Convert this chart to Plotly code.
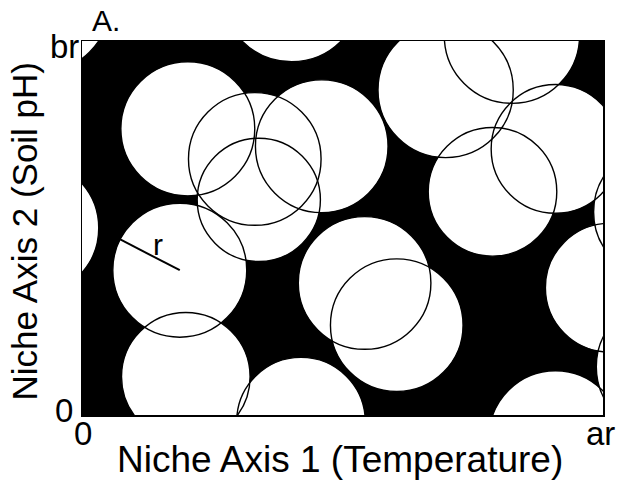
import math
import plotly.graph_objects as go

# Niche axis extents (in units of the niche radius r)
ar = 7.78
br = 5.58

# Niche centres and radii (units of r)
niche_x = [-0.60, 3.13, 1.58, 2.58, 3.58, 2.64, 5.43, 6.42, 7.07, 6.13,
           8.63, 7.88, 8.67, 7.07, -0.76, 1.46, 1.55, 3.27, 4.22, 4.70]
niche_y = [6.13, 6.31, 4.27, 3.82, 4.01, 3.21, 4.85, 5.66, 3.97, 3.33,
           3.03, 1.90, 0.72, -0.33, 2.79, 2.16, 0.57, -0.10, 1.97, 1.34]
niche_r = [1.01, 1.04, 1.00, 0.99, 0.99, 0.92, 1.01, 1.01, 0.96, 0.96,
           0.99, 0.96, 0.99, 0.99, 1.01, 1.00, 0.96, 0.96, 0.99, 0.99]

# the niche whose radius is marked, and direction of the marker (degrees)
radius_niche = 15
radius_angle = 152.7

x_tick_vals = [0, ar]
x_tick_text = ["0", "ar"]
y_tick_vals = [0, br]
y_tick_text = ["0", "br"]

FONT = "Liberation Sans, Arial, Helvetica, sans-serif"

shapes = []
for cx, cy, r in zip(niche_x, niche_y, niche_r):
    shapes.append(dict(type="circle", xref="x", yref="y",
                       x0=cx - r, x1=cx + r, y0=cy - r, y1=cy + r,
                       fillcolor="white", line=dict(width=0), layer="below"))
for cx, cy, r in zip(niche_x, niche_y, niche_r):
    shapes.append(dict(type="circle", xref="x", yref="y",
                       x0=cx - r, x1=cx + r, y0=cy - r, y1=cy + r,
                       fillcolor="rgba(0,0,0,0)",
                       line=dict(color="black", width=1.4), layer="below"))

fig = go.Figure()
fig.add_trace(go.Scatter(x=[0, ar], y=[0, br], mode="markers",
                         marker=dict(opacity=0), hoverinfo="skip",
                         showlegend=False))

cx0 = niche_x[radius_niche]
cy0 = niche_y[radius_niche]
rr = niche_r[radius_niche]
ang = math.radians(radius_angle)
ex = cx0 + rr * math.cos(ang)
ey = cy0 + rr * math.sin(ang)
fig.add_trace(go.Scatter(x=[cx0, ex], y=[cy0, ey], mode="lines",
                         line=dict(color="black", width=2),
                         hoverinfo="skip", showlegend=False))

annotations = [
    dict(text="A.", xref="paper", yref="paper", x=0.016, y=1.005,
         xanchor="left", yanchor="bottom", showarrow=False,
         font=dict(size=30, family=FONT)),
    dict(text="Niche Axis 1 (Temperature)", xref="paper", yref="paper",
         x=0.495, y=-0.12, xanchor="center", yanchor="middle",
         showarrow=False, font=dict(size=37, family=FONT)),
    dict(text="Niche Axis 2 (Soil pH)", xref="paper", yref="paper",
         x=-0.11, y=0.49, xanchor="center", yanchor="middle",
         textangle=-90, showarrow=False,
         font=dict(size=35, family=FONT)),
    dict(text="r", xref="x", yref="y",
         x=(cx0 + ex) / 2 + 0.12, y=(cy0 + ey) / 2 + 0.16,
         xanchor="center", yanchor="middle", showarrow=False,
         font=dict(size=30, family=FONT)),
]
# tick labels
x_shift = {"0": 1, "ar": -3}
for v, t in zip(x_tick_vals, x_tick_text):
    annotations.append(dict(text=t, xref="x", yref="paper", x=v, y=0,
                            xanchor="center", yanchor="top", yshift=2,
                            xshift=x_shift[t],
                            showarrow=False, font=dict(size=33, family=FONT)))
y_shift = {"0": (-7, 5), "br": (-1, -5)}
for v, t in zip(y_tick_vals, y_tick_text):
    xs, ys = y_shift[t]
    annotations.append(dict(text=t, xref="paper", yref="y", x=0, y=v,
                            xanchor="right", yanchor="middle", xshift=xs,
                            yshift=ys,
                            showarrow=False, font=dict(size=33, family=FONT)))

fig.update_layout(
    width=617, height=483,
    margin=dict(l=82, r=14, t=41, b=68),
    paper_bgcolor="white", plot_bgcolor="black",
    shapes=shapes,
    font=dict(family=FONT, color="black"),
    xaxis=dict(range=[0, ar], showgrid=False, zeroline=False,
               showline=True, linecolor="black", linewidth=1.5, mirror=True,
               automargin=False, showticklabels=False, ticks=""),
    yaxis=dict(range=[0, br], showgrid=False, zeroline=False,
               showline=True, linecolor="black", linewidth=1.5, mirror=True,
               automargin=False, showticklabels=False, ticks=""),
    annotations=annotations,
)

fig.write_html("out.html",
               config={"displayModeBar": False, "staticPlot": True},
               post_script="document.body.style.margin='0';")
